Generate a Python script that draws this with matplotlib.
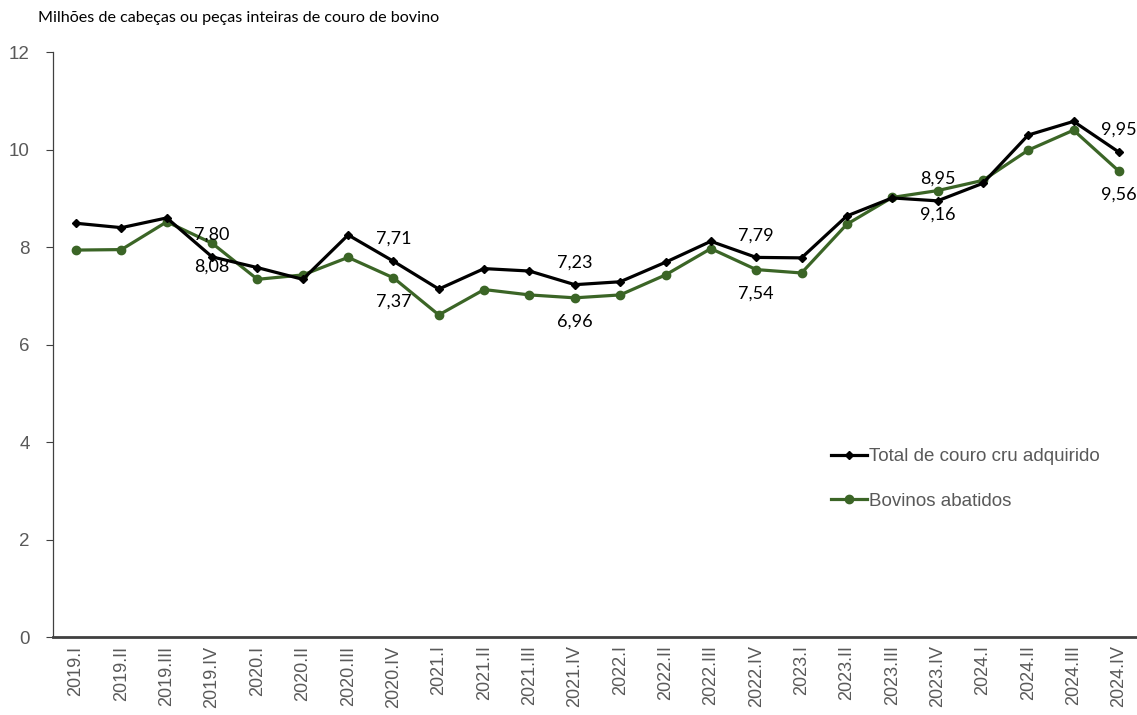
import matplotlib
matplotlib.use("Agg")
import matplotlib.pyplot as plt

# trimestres
trimestres = ["2019.I", "2019.II", "2019.III", "2019.IV",
              "2020.I", "2020.II", "2020.III", "2020.IV",
              "2021.I", "2021.II", "2021.III", "2021.IV",
              "2022.I", "2022.II", "2022.III", "2022.IV",
              "2023.I", "2023.II", "2023.III", "2023.IV",
              "2024.I", "2024.II", "2024.III", "2024.IV"]

# milhoes de pecas
total_couro = [8.49, 8.40, 8.60, 7.80, 7.58, 7.34, 8.25, 7.71,
               7.14, 7.56, 7.51, 7.23, 7.29, 7.69, 8.12, 7.79,
               7.78, 8.64, 9.01, 8.95, 9.31, 10.30, 10.58, 9.95]

bovinos_abatidos = [7.94, 7.95, 8.52, 8.08, 7.34, 7.43, 7.79, 7.37,
                    6.61, 7.13, 7.02, 6.96, 7.02, 7.43, 7.97, 7.54,
                    7.47, 8.47, 9.02, 9.16, 9.37, 9.99, 10.40, 9.56]

# so os quartos trimestres levam rotulo
idx_rotulos = [3, 7, 11, 15, 19, 23]

verde = "#3b6526"
cinza = "#595959"

fig = plt.figure(figsize=(11.37, 7.15), dpi=100)
ax = fig.add_axes([0.047, 0.109, 0.957, 0.818])

x = list(range(len(trimestres)))
ax.plot(x, total_couro, color="black", lw=2.3, marker="D", ms=4,
        label="Total de couro cru adquirido", zorder=3)
ax.plot(x, bovinos_abatidos, color=verde, lw=2.3, marker="o", ms=6,
        label="Bovinos abatidos", zorder=2)

for i in idx_rotulos:
    ax.annotate(f"{total_couro[i]:.2f}".replace(".", ","), (i, total_couro[i]),
                xytext=(0, 16), textcoords="offset points", ha="center", va="center",
                fontsize=13, family="Lato", color="black")
    ax.annotate(f"{bovinos_abatidos[i]:.2f}".replace(".", ","), (i, bovinos_abatidos[i]),
                xytext=(0, -17), textcoords="offset points", ha="center", va="center",
                fontsize=13, family="Lato", color="black")

ax.set_xlim(-0.5, len(trimestres) - 0.5)
ax.set_ylim(0, 12)
ax.set_yticks([0, 2, 4, 6, 8, 10, 12])
ax.set_xticks(x)
ax.set_xticklabels(trimestres, rotation=90, fontsize=13, color=cinza, family="Liberation Sans")
for t in ax.get_yticklabels():
    t.set_family("Liberation Sans")
ax.tick_params(axis="y", labelsize=13.5, colors=cinza, length=5, width=0.8, pad=12)
ax.tick_params(axis="y", color="#404040")
ax.tick_params(axis="x", length=0, pad=6)

ax.spines["top"].set_visible(False)
ax.spines["right"].set_visible(False)
ax.spines["left"].set_color("#404040")
ax.spines["left"].set_linewidth(0.9)
ax.spines["bottom"].set_color("#404040")
ax.spines["bottom"].set_linewidth(2)

fig.text(0.033, 0.975, "Milhões de cabeças ou peças inteiras de couro de bovino",
         fontsize=11.6, family="Lato", va="center", ha="left", color="black")

leg = ax.legend(loc="upper left", bbox_to_anchor=(0.699, 0.352), frameon=False,
                handlelength=1.9, handletextpad=0.12, labelspacing=1.45,
                prop={"family": "Liberation Sans", "size": 13.5})
for t in leg.get_texts():
    t.set_color(cinza)

fig.savefig("out.png", dpi=100)
